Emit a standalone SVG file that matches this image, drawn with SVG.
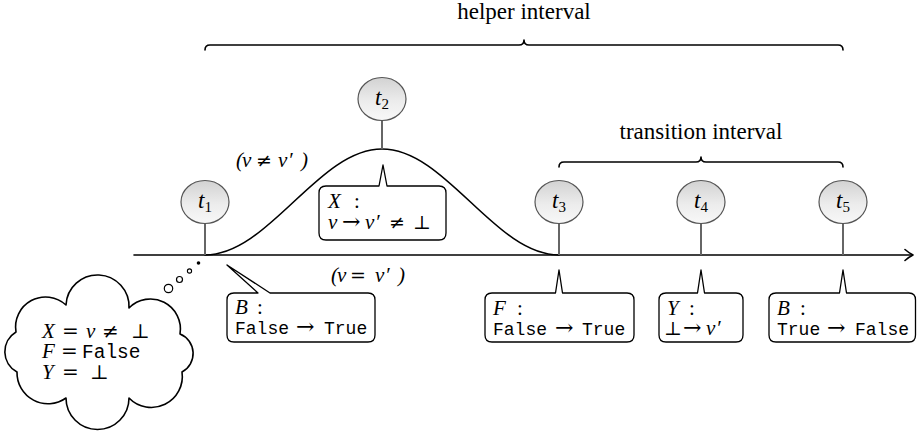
<svg xmlns="http://www.w3.org/2000/svg" width="917" height="433" viewBox="0 0 917 433">
<style>
.m{font-family:"Liberation Serif","DejaVu Serif",serif;font-style:italic;font-size:21px;fill:#000}
.r{font-family:"Liberation Serif","DejaVu Serif",serif;font-style:normal;font-size:21px;fill:#000}
.s{font-family:"DejaVu Serif","Liberation Serif",serif;font-size:19px;fill:#000;font-style:normal}
.ar{font-family:"DejaVu Serif","Liberation Serif",serif;font-size:22px;fill:#000;font-style:normal}
.tt{font-family:"Liberation Mono","DejaVu Sans Mono",monospace;font-size:18px;fill:#000;font-style:normal}
.lbl{font-family:"Liberation Serif","DejaVu Serif",serif;font-size:23px;fill:#000}
.ln{fill:none;stroke:#000;stroke-width:1.6;stroke-linecap:round;stroke-linejoin:round}
.box{fill:#fff;stroke:#000;stroke-width:1.3;stroke-linejoin:round}
.ball{fill:url(#bg);stroke:#555;stroke-width:1.2}
.stem{stroke:#666;stroke-width:2}
.bt{font-family:"Liberation Serif","DejaVu Serif",serif;font-style:italic;font-size:23px;fill:#000}
.sub{font-size:15px;font-style:normal}
.cm{font-size:21px}
.cs{font-size:20px}
.ct{font-size:19.5px}
</style>
<defs>
<linearGradient id="bg" x1="0" y1="0" x2="0" y2="1">
<stop offset="0" stop-color="#d2d2d2"/>
<stop offset="0.55" stop-color="#ececec"/>
<stop offset="1" stop-color="#f8f8f8"/>
</linearGradient>
</defs>

<g id="connectors">
<path class="ln" d="M134,255 L912,255"/>
<path class="ln" d="M905,249.5 Q909,253 913,255 Q909,257 905,260.5"/>
<path class="ln" stroke-width="2" d="M205,255 C269,255 318,149 382,149 C446,149 495,255 559,255"/>
<path class="ln" d="M205,50 Q205,45 210,45 L519,45 Q524,45 524,40 Q524,45 529,45 L838,45 Q843,45 843,50"/>
<path class="ln" d="M559,167 Q559,162 564,162 L696,162 Q701,162 701,157 Q701,162 706,162 L838,162 Q843,162 843,167"/>
</g>

<g id="labels">
<text class="lbl" x="524" y="19" text-anchor="middle">helper interval</text>
<text class="lbl" x="701" y="139" text-anchor="middle">transition interval</text>
<text class="m" y="167"><tspan x="236">(</tspan><tspan x="242">v</tspan><tspan class="s" x="256">≠</tspan><tspan x="278">v</tspan><tspan x="288">′</tspan><tspan x="301">)</tspan></text>
<text class="m" y="282"><tspan x="331">(</tspan><tspan x="337">v</tspan><tspan class="s" x="350">=</tspan><tspan x="375">v</tspan><tspan x="385">′</tspan><tspan x="398">)</tspan></text>
</g>

<g id="t1">
<line class="stem" x1="205" y1="223" x2="205" y2="255"/>
<ellipse class="ball" cx="205" cy="202" rx="24" ry="21.5"/>
<text class="bt" x="205" y="208" text-anchor="middle">t<tspan class="sub" dy="4">1</tspan></text>
</g>
<g id="t2">
<line class="stem" x1="382" y1="120" x2="382" y2="149"/>
<ellipse class="ball" cx="382" cy="99" rx="24" ry="21.5"/>
<text class="bt" x="382" y="105" text-anchor="middle">t<tspan class="sub" dy="4">2</tspan></text>
</g>
<g id="t3">
<line class="stem" x1="559" y1="223" x2="559" y2="255"/>
<ellipse class="ball" cx="559" cy="202" rx="24" ry="21.5"/>
<text class="bt" x="559" y="208" text-anchor="middle">t<tspan class="sub" dy="4">3</tspan></text>
</g>
<g id="t4">
<line class="stem" x1="701" y1="223" x2="701" y2="255"/>
<ellipse class="ball" cx="701" cy="202" rx="24" ry="21.5"/>
<text class="bt" x="701" y="208" text-anchor="middle">t<tspan class="sub" dy="4">4</tspan></text>
</g>
<g id="t5">
<line class="stem" x1="843" y1="223" x2="843" y2="255"/>
<ellipse class="ball" cx="843" cy="202" rx="24" ry="21.5"/>
<text class="bt" x="843" y="208" text-anchor="middle">t<tspan class="sub" dy="4">5</tspan></text>
</g>

<g id="callout-X">
<path class="box" d="M326,186 L379,186 L383,165 L387,186 L439,186 Q446,186 446,193 L446,233 Q446,240 439,240 L326,240 Q319,240 319,233 L319,193 Q319,186 326,186 Z"/>
<text class="m"><tspan x="328" y="208">X</tspan><tspan class="r" x="354" y="208">:</tspan><tspan x="328" y="229">v</tspan><tspan class="ar" x="342" y="229">→</tspan><tspan x="365" y="229">v</tspan><tspan x="375" y="229">′</tspan><tspan class="s" x="389" y="229">≠</tspan><tspan class="s" x="413" y="229">⊥</tspan></text>
</g>

<g id="callout-B1">
<path class="box" d="M234,293 L258,293 L227,265 L270,293 L368,293 Q375,293 375,300 L375,335 Q375,342 368,342 L234,342 Q227,342 227,335 L227,300 Q227,293 234,293 Z"/>
<text class="m"><tspan x="235" y="314">B</tspan><tspan class="r" x="257" y="314">:</tspan><tspan class="tt" x="235" y="334">False</tspan><tspan class="ar" x="296" y="334">→</tspan><tspan class="tt" x="324" y="334">True</tspan></text>
</g>

<g id="callout-F">
<path class="box" d="M492,293 L555.5,293 L559,270 L562.5,293 L627,293 Q634,293 634,300 L634,335 Q634,342 627,342 L492,342 Q485,342 485,335 L485,300 Q485,293 492,293 Z"/>
<text class="m"><tspan x="493" y="315">F</tspan><tspan class="r" x="517" y="315">:</tspan><tspan class="tt" x="493" y="335">False</tspan><tspan class="ar" x="555" y="335">→</tspan><tspan class="tt" x="582" y="335">True</tspan></text>
</g>

<g id="callout-Y">
<path class="box" d="M666,293 L697.5,293 L701,270 L704.5,293 L736,293 Q743,293 743,300 L743,335 Q743,342 736,342 L666,342 Q659,342 659,335 L659,300 Q659,293 666,293 Z"/>
<text class="m"><tspan x="667" y="315">Y</tspan><tspan class="r" x="689" y="315">:</tspan><tspan class="s" x="664" y="335">⊥</tspan><tspan class="ar" x="683" y="335">→</tspan><tspan x="706" y="335">v</tspan><tspan x="716" y="335">′</tspan></text>
</g>

<g id="callout-B5">
<path class="box" d="M776,293 L839.5,293 L843,270 L846.5,293 L909,293 Q915.5,293 915.5,300 L915.5,335 Q915.5,342 909,342 L776,342 Q769,342 769,335 L769,300 Q769,293 776,293 Z"/>
<text class="m"><tspan x="777" y="315">B</tspan><tspan class="r" x="800" y="315">:</tspan><tspan class="tt" x="777" y="335">True</tspan><tspan class="ar" x="827" y="335">→</tspan><tspan class="tt" x="855" y="335">False</tspan></text>
</g>

<g id="cloud">
<circle cx="168.5" cy="288.5" r="4.2" fill="#fff" stroke="#000" stroke-width="1.2"/>
<circle cx="179.5" cy="279.5" r="3" fill="#fff" stroke="#000" stroke-width="1.2"/>
<circle cx="189.5" cy="271" r="2.1" fill="#fff" stroke="#000" stroke-width="1.1"/>
<circle cx="198.5" cy="263" r="1.8" fill="#000"/>
<path class="ln" stroke-width="1.4" fill="#fff" d="M66,305 A31.5,31.5 0 0 1 129,308 A30,30 0 0 1 180,334 A21,21 0 0 1 182,372 A31,31 0 0 1 129,398 A31.5,31.5 0 0 1 66,398 A31,31 0 0 1 17,372 A23,23 0 0 1 16,332 A30,30 0 0 1 66,305 Z"/>
<text class="m cm"><tspan x="42" y="338">X</tspan><tspan class="s cs" x="62" y="338">=</tspan><tspan x="86" y="338">v</tspan><tspan class="s cs" x="102" y="338">≠</tspan><tspan class="s cs" x="131" y="338">⊥</tspan><tspan x="42" y="358">F</tspan><tspan class="s cs" x="61" y="358">=</tspan><tspan class="tt ct" x="82" y="358">False</tspan><tspan x="42" y="379">Y</tspan><tspan class="s cs" x="62" y="379">=</tspan><tspan class="s cs" x="90" y="379">⊥</tspan></text>
</g>
</svg>
